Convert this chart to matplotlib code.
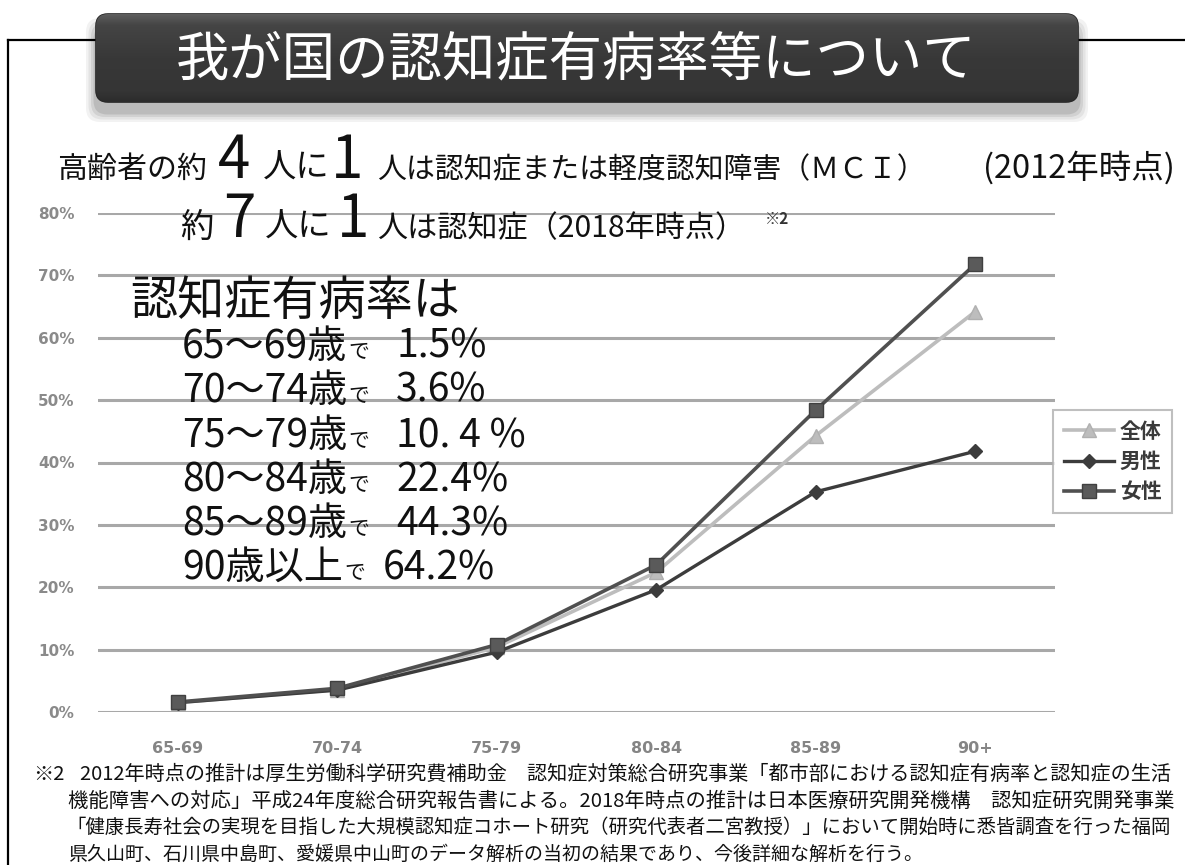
import matplotlib
matplotlib.use("Agg")
import matplotlib.pyplot as plt
from matplotlib.patches import FancyBboxPatch
from matplotlib.colors import LinearSegmentedColormap
import numpy as np

plt.rcParams['font.family'] = ['Noto Sans CJK JP', 'DejaVu Sans']

# ---------------- data ----------------
categories = ["65-69", "70-74", "75-79", "80-84", "85-89", "90+"]
overall = [1.5, 3.6, 10.4, 22.4, 44.3, 64.2]
male = [1.5, 3.5, 9.6, 19.6, 35.3, 41.8]
female = [1.6, 3.8, 10.8, 23.6, 48.4, 71.8]
series_names = ["全体", "男性", "女性"]
yticks = [0, 10, 20, 30, 40, 50, 60, 70, 80]
ytick_labels = ["0%", "10%", "20%", "30%", "40%", "50%", "60%", "70%", "80%"]

title = "我が国の認知症有病率等について"
stat_ages = ["65～69歳", "70～74歳", "75～79歳", "80～84歳", "85～89歳", "90歳以上"]
stat_values = ["1.5%", "3.6%", "10. 4 %", "22.4%", "44.3%", "64.2%"]
footnote = [
    "2012年時点の推計は厚生労働科学研究費補助金　認知症対策総合研究事業「都市部における認知症有病率と認知症の生活",
    "機能障害への対応」平成24年度総合研究報告書による。2018年時点の推計は日本医療研究開発機構　認知症研究開発事業",
    "「健康長寿社会の実現を目指した大規模認知症コホート研究（研究代表者二宮教授）」において開始時に悉皆調査を行った福岡",
    "県久山町、石川県中島町、愛媛県中山町のデータ解析の当初の結果であり、今後詳細な解析を行う。",
]

W, H = 1185, 865
fig = plt.figure(figsize=(W / 100, H / 100), dpi=100)
fig.patch.set_facecolor("white")

# ---------------- chart axes ----------------
x0, x1 = 98, 1055
y_top, y_bot = 213, 712
ax = fig.add_axes([x0 / W, 1 - y_bot / H, (x1 - x0) / W, (y_bot - y_top) / H])
ax.set_xlim(-0.5, len(categories) - 0.5)
ax.set_ylim(0, 80)
for s in ax.spines.values():
    s.set_visible(False)
ax.set_yticks(yticks)
ax.set_yticklabels(ytick_labels)
ax.set_xticks(range(len(categories)))
ax.set_xticklabels(categories)
ax.tick_params(axis="y", length=0, pad=17, labelcolor="#8a8a8a", labelsize=11)
ax.tick_params(axis="x", length=0, pad=21, labelcolor="#858585", labelsize=11.5)
for lab in ax.get_yticklabels() + ax.get_xticklabels():
    lab.set_family("DejaVu Sans")
    lab.set_fontweight("bold")
ax.grid(axis="y", color="#a8a8a8", linewidth=2.2)
ax.set_axisbelow(True)

xs = np.arange(len(categories))
l_all, = ax.plot(xs, overall, color="#bdbdbd", lw=2.6, marker="^", ms=10,
                 mec="#b0b0b0", mfc="#bdbdbd", zorder=3)
l_m, = ax.plot(xs, male, color="#3c3c3c", lw=2.4, marker="D", ms=7,
               mec="#3c3c3c", mfc="#3c3c3c", zorder=4)
l_f, = ax.plot(xs, female, color="#505050", lw=2.6, marker="s", ms=10,
               mec="#404040", mfc="#5a5a5a", zorder=5)

leg = fig.legend([l_all, l_m, l_f], series_names, loc="center",
                 bbox_to_anchor=(1045 / W, 1 - 518 / H, 135 / W, 113 / H),
                 frameon=True, fancybox=False, handlelength=2.4,
                 handletextpad=0.3, labelspacing=0.45, fontsize=15,
                 borderpad=0.5)
leg.get_frame().set_edgecolor("#b0b0b0")
leg.get_frame().set_linewidth(1.5)
for t in leg.get_texts():
    t.set_color("#3a3a3a")
    t.set_fontweight("bold")

# ---------------- overlay axes in pixel coords ----------------
bg = fig.add_axes([0, 0, 1, 1], zorder=10)
bg.set_xlim(0, W)
bg.set_ylim(H, 0)
bg.axis("off")
bg.patch.set_alpha(0)

renderer = fig.canvas.get_renderer()


def put(x, y, s, size, color="#111111", ha="left", va="baseline", weight="normal", fit=None):
    t = bg.text(x, y, s, fontsize=size, color=color, ha=ha, va=va, fontweight=weight)
    if fit is not None:
        w = t.get_window_extent(renderer).width
        t.set_fontsize(size * fit / w)
    return t


def fitted_size(s, size, target):
    t = bg.text(0, 0, s, fontsize=size)
    w = t.get_window_extent(renderer).width
    t.remove()
    return size * target / w


# frame lines
bg.plot([8, 96], [40, 40], color="black", lw=1.6)
bg.plot([1078, W], [40, 40], color="black", lw=1.6)
bg.plot([8, 8], [40, H], color="black", lw=1.6)

# title box with shadow
for i, a in enumerate([0.05, 0.06, 0.08, 0.10]):
    pad = 10 - i * 2.5
    sh = FancyBboxPatch((96 - pad, 20 - pad + 8), 982 + 2 * pad, 84 + 2 * pad,
                        boxstyle="round,pad=0,rounding_size=14",
                        fc="black", ec="none", alpha=a, zorder=1)
    bg.add_patch(sh)
box = FancyBboxPatch((96, 14), 982, 88, boxstyle="round,pad=0,rounding_size=12",
                     fc="#3a3a3a", ec="#262626", lw=1.2, zorder=2)
bg.add_patch(box)
cmap = LinearSegmentedColormap.from_list(
    "btn", [(0, "#5e5e5e"), (0.12, "#454545"), (0.5, "#383838"), (0.88, "#353535"), (1, "#2c2c2c")])
grad = np.linspace(0, 1, 200).reshape(-1, 1)
img = bg.imshow(grad, extent=(96, 1078, 102, 14), cmap=cmap, vmin=0, vmax=1,
                aspect="auto", zorder=2.5)
img.set_clip_path(box)
put(576, 60, title, 39, color="white", ha="center", va="center", fit=800)

# header lines
put(57, 178, "高齢者の約", 24, fit=150)
put(218, 178, "4", 42)
put(263, 178, "人に", 24)
put(331, 178, "1", 42)
put(377, 178, "人は認知症または軽度認知障害（ＭＣＩ）", 24, fit=550)
put(1175, 178, "(2012年時点)", 24, ha="right", fit=192)

put(180, 237, "約", 24)
put(223, 237, "7", 42)
put(265, 237, "人に", 24)
put(337, 237, "1", 42)
put(377, 237, "人は認知症（2018年時点）", 24, fit=368)
put(765, 224, "※2", 11, color="#333333", weight="bold")

put(130, 315, "認知症有病率は", 34, fit=330)

row_y = [358, 402, 447, 491, 535, 579]
age_size = fitted_size(stat_ages[0], 24, 165)
val_size = fitted_size(stat_values[0], 24, 90)
for i, (a, v) in enumerate(zip(stat_ages, stat_values)):
    t = put(182, row_y[i], a, age_size)
    xe = t.get_window_extent(renderer).x1
    put(xe + 1, row_y[i], "で", 15)
    put(396 if i < 5 else 383, row_y[i], v, val_size)

# footnote
put(33, 780, "※2", 14.5)
put(80, 780, footnote[0], 14, fit=1095)
put(68, 807, footnote[1], 14, fit=1107)
put(66, 833, footnote[2], 14, fit=1109)
put(68, 860, footnote[3], 14, fit=857)

fig.savefig("out.png", dpi=100, facecolor="white")
